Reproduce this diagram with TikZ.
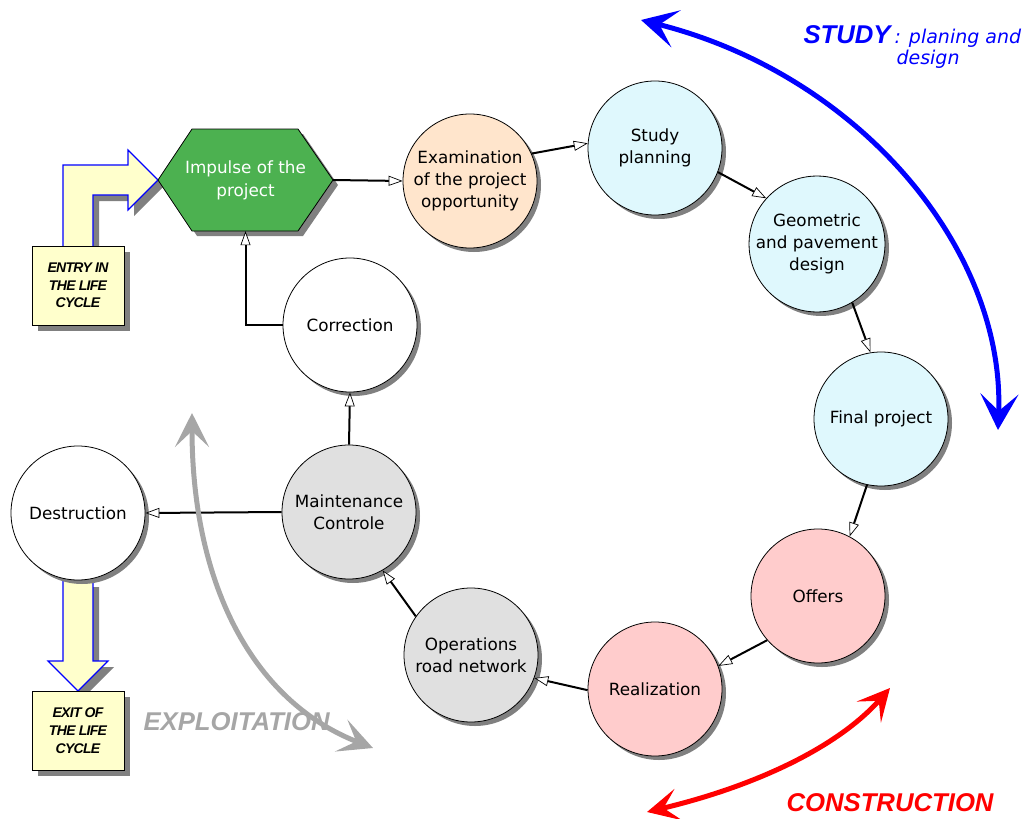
\documentclass[tikz,border=0pt]{standalone}
\usepackage{fontspec}
\setmainfont{DejaVu Sans}
\newfontfamily\labfont{Liberation Sans}
\usetikzlibrary{arrows.meta,shadows}
\definecolor{hexgreen}{RGB}{76,177,80}
\definecolor{peach}{RGB}{255,229,204}
\definecolor{lightcyan}{RGB}{223,248,253}
\definecolor{lightpink}{RGB}{255,204,204}
\definecolor{lightgray2}{RGB}{224,224,224}
\definecolor{boxyellow}{RGB}{255,255,204}
\definecolor{shadowgray}{RGB}{128,128,128}
\definecolor{arcgray}{RGB}{166,166,166}
\begin{document}
\begin{tikzpicture}[x=1pt,y=-1pt,
  stage/.style={circle, draw=black, line width=0.8pt, minimum size=134pt, inner sep=0pt, align=center,
    font=\fontsize{16.8}{22}\selectfont,
    drop shadow={shadow xshift=4pt,shadow yshift=-4pt,fill=shadowgray,opacity=1}},
  conn/.style={line width=2pt, -{Triangle[fill=white, length=14pt, width=10pt, line width=0.7pt]}},
  labelbox/.style={draw=black, line width=0.8pt, fill=boxyellow, minimum width=92pt, minimum height=79pt, inner sep=0pt,
    align=center, font=\labfont\bfseries\itshape\addfontfeature{LetterSpace=-5}\fontsize{14}{17.7}\selectfont,
    drop shadow={shadow xshift=6pt,shadow yshift=-6pt,fill=shadowgray,opacity=1}},
  bigarc/.style={line width=5pt},
  phase/.style={anchor=base west, font=\labfont\bfseries\itshape\fontsize{25.7}{30}\selectfont}
]
\useasboundingbox (0,0) rectangle (1034,819);

% entry arrow
\fill[shadowgray] (69,252) -- (69,171) -- (134,171) -- (134,156) -- (164,186) -- (134,216) -- (134,201) -- (99,201) -- (99,252) -- cycle;
\draw[blue, line width=1.1pt, fill=boxyellow] (63,246) -- (63,165) -- (128,165) -- (128,150) -- (158,180) -- (128,210) -- (128,195) -- (93,195) -- (93,246);
\node[labelbox] (entry) at (78,285.5) {ENTRY IN\\THE LIFE\\CYCLE};

% exit arrow
\fill[shadowgray] (69,587) -- (69,667) -- (54,667) -- (84,697) -- (114,667) -- (99,667) -- (99,587) -- cycle;
\draw[blue, line width=1.1pt, fill=boxyellow] (63,570) -- (63,661) -- (48,661) -- (78,691) -- (108,661) -- (93,661) -- (93,570);
\node[labelbox] (exit) at (78,730.5) {EXIT OF\\THE LIFE\\CYCLE};

% hexagon
\fill[shadowgray] (163,185) -- (197,134) -- (303,134) -- (338,185) -- (303,236) -- (197,236) -- cycle;
\draw[fill=hexgreen, line width=0.8pt] (158,180) -- (192,129) -- (298,129) -- (333,180) -- (298,231) -- (192,231) -- cycle;
\node[minimum width=175pt, minimum height=102pt, inner sep=0pt, align=center, text=white,
  font=\fontsize{16.8}{23}\selectfont] (hex) at (245.5,180) {Impulse of the\\project};

% stages
\node[stage, fill=peach] (exam) at (470,181) {Examination\\of the project\\opportunity};
\node[stage, fill=lightcyan] (study) at (655,148) {Study\\planning};
\node[stage, fill=lightcyan] (geo) at (817,244) {Geometric\\and pavement\\design};
\node[stage, fill=lightcyan] (final) at (881,419) {Final project};
\node[stage, fill=lightpink] (offers) at (818,596) {Offers};
\node[stage, fill=lightpink] (real) at (655,689) {Realization};
\node[stage, fill=lightgray2] (ops) at (471,655) {Operations\\road network};
\node[stage, fill=lightgray2] (maint) at (349,512) {Maintenance\\Controle};
\node[stage, fill=white] (corr) at (350,325) {Correction};
\node[stage, fill=white] (destr) at (78,513) {Destruction};

% connectors
\draw[conn] (hex.east) -- (exam.180);
\draw[conn] (exam.24) -- (study.176);
\draw[conn] (study.-21) -- (geo.138);
\draw[conn] (geo.-59) -- (final.99);
\draw[conn] (final.-102) -- (offers.62);
\draw[conn] (offers.-139) -- (real.20);
\draw[conn] (real.181) -- (ops.-20);
\draw[conn] (ops.145) -- (maint.-60);
\draw[conn] (maint.90) -- (corr.-90);
\draw[conn] (maint.180) -- (destr.0);
\draw[conn] (corr.180) -| (hex.south);

% phase arcs
\coordinate (b1) at (641,20);
\coordinate (b2) at (998,430);
\draw[bigarc, blue, {Stealth[length=36pt, width=38pt, inset=17pt]}-{Stealth[length=36pt, width=38pt, inset=17pt]}]
  (b1) .. controls (860,75) and (1005,250) .. (b2);
\coordinate (r1) at (647,812);
\coordinate (r2) at (890,688);
\draw[bigarc, red, {Stealth[length=32pt, width=32pt, inset=15pt]}-{Stealth[length=32pt, width=32pt, inset=15pt]}]
  (r1) .. controls (760,785) and (840,745) .. (r2);
\coordinate (g1) at (192,413);
\coordinate (g2) at (373,748);
\draw[bigarc, arcgray, {Stealth[length=34pt, width=34pt, inset=16pt]}-{Stealth[length=34pt, width=34pt, inset=16pt]}]
  (g1) .. controls (192,580) and (250,700) .. (g2);

% phase labels
\node[phase, text=blue] (studylab) at (800,43) {STUDY};
\node[anchor=base west, text=blue, font=\itshape\fontsize{19}{22}\selectfont] (studysub) at (891,43) {: planing and};
\node[anchor=base west, text=blue, font=\itshape\fontsize{19}{22}\selectfont] (studysub2) at (893,64) {design};
\node[phase, text=red] (conslab) at (783,811) {CONSTRUCTION};
\node[phase, text=arcgray] (explab) at (140,730) {EXPLOITATION};
\end{tikzpicture}
\end{document}
